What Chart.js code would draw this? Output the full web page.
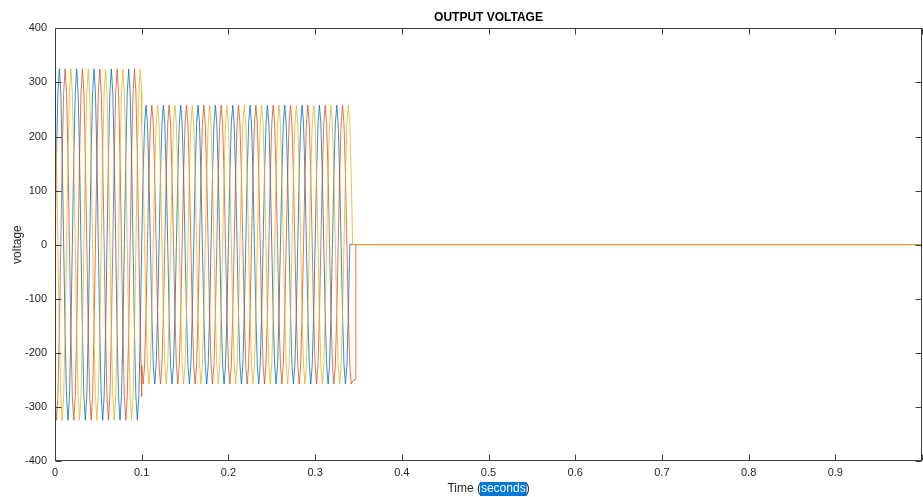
<!DOCTYPE html>
<html>
<head>
<meta charset="utf-8">
<title>Output voltage</title>
<script src="https://cdn.jsdelivr.net/npm/chart.js@4/dist/chart.umd.min.js"></script>
<style>
  html, body { margin: 0; padding: 0; background: #fff; }
  canvas { display: block; }
</style>
</head>
<body>
<canvas id="voltChart" width="923" height="497"></canvas>
<script>
// Sample times in ms (30 deg steps of a 50 Hz wave), 100 ms listed twice for the step change
const timeMs = [
  0, 1.67, 3.33, 5, 6.67, 8.33, 10, 11.67, 13.33, 15, 16.67, 18.33,
  20, 21.67, 23.33, 25, 26.67, 28.33, 30, 31.67, 33.33, 35, 36.67, 38.33,
  40, 41.67, 43.33, 45, 46.67, 48.33, 50, 51.67, 53.33, 55, 56.67, 58.33,
  60, 61.67, 63.33, 65, 66.67, 68.33, 70, 71.67, 73.33, 75, 76.67, 78.33,
  80, 81.67, 83.33, 85, 86.67, 88.33, 90, 91.67, 93.33, 95, 96.67, 98.33,
  100,
  100, 101.67, 103.33, 105, 106.67, 108.33, 110, 111.67, 113.33, 115, 116.67, 118.33,
  120, 121.67, 123.33, 125, 126.67, 128.33, 130, 131.67, 133.33, 135, 136.67, 138.33,
  140, 141.67, 143.33, 145, 146.67, 148.33, 150, 151.67, 153.33, 155, 156.67, 158.33,
  160, 161.67, 163.33, 165, 166.67, 168.33, 170, 171.67, 173.33, 175, 176.67, 178.33,
  180, 181.67, 183.33, 185, 186.67, 188.33, 190, 191.67, 193.33, 195, 196.67, 198.33,
  200, 201.67, 203.33, 205, 206.67, 208.33, 210, 211.67, 213.33, 215, 216.67, 218.33,
  220, 221.67, 223.33, 225, 226.67, 228.33, 230, 231.67, 233.33, 235, 236.67, 238.33,
  240, 241.67, 243.33, 245, 246.67, 248.33, 250, 251.67, 253.33, 255, 256.67, 258.33,
  260, 261.67, 263.33, 265, 266.67, 268.33, 270, 271.67, 273.33, 275, 276.67, 278.33,
  280, 281.67, 283.33, 285, 286.67, 288.33, 290, 291.67, 293.33, 295, 296.67, 298.33,
  300, 301.67, 303.33, 305, 306.67, 308.33, 310, 311.67, 313.33, 315, 316.67, 318.33,
  320, 321.67, 323.33, 325, 326.67, 328.33, 330, 331.67, 333.33, 335, 336.67, 338.33,
  340, 341.67, 343.33, 346.5, 347, 1000
];

// phase voltages (V), blue
const phaseA = [
  0, 162, 281, 325, 281, 162, 0, -162, -281, -325, -281, -162,
  0, 162, 281, 325, 281, 162, 0, -162, -281, -325, -281, -162,
  0, 162, 281, 325, 281, 162, 0, -162, -281, -325, -281, -162,
  0, 162, 281, 325, 281, 162, 0, -162, -281, -325, -281, -162,
  0, 162, 281, 325, 281, 162, 0, -162, -281, -325, -281, -162,
  0,
  0, 129, 223, 258, 223, 129, 0, -129, -223, -258, -223, -129,
  0, 129, 223, 258, 223, 129, 0, -129, -223, -258, -223, -129,
  0, 129, 223, 258, 223, 129, 0, -129, -223, -258, -223, -129,
  0, 129, 223, 258, 223, 129, 0, -129, -223, -258, -223, -129,
  0, 129, 223, 258, 223, 129, 0, -129, -223, -258, -223, -129,
  0, 129, 223, 258, 223, 129, 0, -129, -223, -258, -223, -129,
  0, 129, 223, 258, 223, 129, 0, -129, -223, -258, -223, -129,
  0, 129, 223, 258, 223, 129, 0, -129, -223, -258, -223, -129,
  0, 129, 223, 258, 223, 129, 0, -129, -223, -258, -223, -129,
  0, 129, 223, 258, 223, 129, 0, -129, -223, -258, -223, -129,
  0, 129, 223, 258, 223, 129, 0, -129, -223, -258, -223, -129,
  0, 129, 223, 258, 223, 129, 0, -129, -223, -258, -223, -129,
  0, 0, 0, 0, 0, 0
];

// orange
const phaseB = [
  -281, -325, -281, -162, 0, 162, 281, 325, 281, 162, 0, -162,
  -281, -325, -281, -162, 0, 162, 281, 325, 281, 162, 0, -162,
  -281, -325, -281, -162, 0, 162, 281, 325, 281, 162, 0, -162,
  -281, -325, -281, -162, 0, 162, 281, 325, 281, 162, 0, -162,
  -281, -325, -281, -162, 0, 162, 281, 325, 281, 162, 0, -162,
  -281,
  -223, -258, -223, -129, 0, 129, 223, 258, 223, 129, 0, -129,
  -223, -258, -223, -129, 0, 129, 223, 258, 223, 129, 0, -129,
  -223, -258, -223, -129, 0, 129, 223, 258, 223, 129, 0, -129,
  -223, -258, -223, -129, 0, 129, 223, 258, 223, 129, 0, -129,
  -223, -258, -223, -129, 0, 129, 223, 258, 223, 129, 0, -129,
  -223, -258, -223, -129, 0, 129, 223, 258, 223, 129, 0, -129,
  -223, -258, -223, -129, 0, 129, 223, 258, 223, 129, 0, -129,
  -223, -258, -223, -129, 0, 129, 223, 258, 223, 129, 0, -129,
  -223, -258, -223, -129, 0, 129, 223, 258, 223, 129, 0, -129,
  -223, -258, -223, -129, 0, 129, 223, 258, 223, 129, 0, -129,
  -223, -258, -223, -129, 0, 129, 223, 258, 223, 129, 0, -129,
  -223, -258, -223, -129, 0, 129, 223, 258, 223, 129, 0, -129,
  -223, -258, -252, -250, 0, 0
];

// yellow
const phaseC = [
  281, 162, 0, -162, -281, -325, -281, -162, 0, 162, 281, 325,
  281, 162, 0, -162, -281, -325, -281, -162, 0, 162, 281, 325,
  281, 162, 0, -162, -281, -325, -281, -162, 0, 162, 281, 325,
  281, 162, 0, -162, -281, -325, -281, -162, 0, 162, 281, 325,
  281, 162, 0, -162, -281, -325, -281, -162, 0, 162, 281, 325,
  281,
  223, 129, 0, -129, -223, -258, -223, -129, 0, 129, 223, 258,
  223, 129, 0, -129, -223, -258, -223, -129, 0, 129, 223, 258,
  223, 129, 0, -129, -223, -258, -223, -129, 0, 129, 223, 258,
  223, 129, 0, -129, -223, -258, -223, -129, 0, 129, 223, 258,
  223, 129, 0, -129, -223, -258, -223, -129, 0, 129, 223, 258,
  223, 129, 0, -129, -223, -258, -223, -129, 0, 129, 223, 258,
  223, 129, 0, -129, -223, -258, -223, -129, 0, 129, 223, 258,
  223, 129, 0, -129, -223, -258, -223, -129, 0, 129, 223, 258,
  223, 129, 0, -129, -223, -258, -223, -129, 0, 129, 223, 258,
  223, 129, 0, -129, -223, -258, -223, -129, 0, 129, 223, 258,
  223, 129, 0, -129, -223, -258, -223, -129, 0, 129, 223, 258,
  223, 129, 0, -129, -223, -258, -223, -129, 0, 129, 223, 258,
  223, 129, 0, 0, 0, 0
];

const AXIS_COLOR = '#404040';
const TEXT_COLOR = '#262626';
const FONT = '"Liberation Sans", Arial, Helvetica, sans-serif';

// MATLAB-ish box with inward ticks on all four sides
const axesBox = {
  id: 'axesBox',
  afterDatasetsDraw(chart) {
    const { ctx, chartArea: a, scales: { x, y } } = chart;
    const len = 6;
    ctx.save();
    ctx.strokeStyle = AXIS_COLOR;
    ctx.lineWidth = 1;
    const l = Math.round(a.left) + 0.5, r = Math.round(a.right) - 0.5;
    const t = Math.round(a.top) + 0.5, b = Math.round(a.bottom) - 0.5;
    ctx.strokeRect(l, t, r - l, b - t);
    ctx.beginPath();
    x.ticks.forEach(tk => {
      const px = Math.round(x.getPixelForValue(tk.value)) + 0.5;
      ctx.moveTo(px, b); ctx.lineTo(px, b - len);
      ctx.moveTo(px, t); ctx.lineTo(px, t + len);
    });
    y.ticks.forEach(tk => {
      const py = Math.round(y.getPixelForValue(tk.value)) + 0.5;
      ctx.moveTo(l, py); ctx.lineTo(l + len, py);
      ctx.moveTo(r, py); ctx.lineTo(r - len, py);
    });
    ctx.stroke();
    ctx.restore();
  },
  afterDraw(chart) {
    // x axis label with "seconds" shown selected
    const { ctx, chartArea: a } = chart;
    const parts = ['Time (', 'seconds', ')'];
    ctx.save();
    ctx.font = '12px ' + FONT;
    ctx.textBaseline = 'middle';
    ctx.textAlign = 'left';
    const w = parts.map(p => ctx.measureText(p).width);
    let cx = (a.left + a.right) / 2 - (w[0] + w[1] + w[2]) / 2;
    const cy = 489;
    ctx.fillStyle = TEXT_COLOR;
    ctx.fillText(parts[0], cx, cy);
    cx += w[0];
    ctx.fillStyle = '#0078D7';
    ctx.fillRect(cx - 1, cy - 7, w[1] + 2, 14);
    ctx.fillStyle = '#fff';
    ctx.fillText(parts[1], cx, cy);
    cx += w[1];
    ctx.fillStyle = TEXT_COLOR;
    ctx.fillText(parts[2], cx, cy);
    ctx.restore();
  }
};

const ctx = document.getElementById('voltChart').getContext('2d');

const voltChart = new Chart(ctx, {
  type: 'line',
  data: {
    labels: timeMs.map(t => t / 1000),
    datasets: [
      { label: 'Va', data: phaseA, borderColor: '#0072BD', order: 3 },
      { label: 'Vb', data: phaseB, borderColor: '#D95319', order: 2 },
      { label: 'Vc', data: phaseC, borderColor: '#EDB120', order: 1 }
    ]
  },
  options: {
    responsive: false,
    animation: false,
    events: [],
    elements: {
      point: { radius: 0 },
      line: { borderWidth: 0.8, tension: 0 }
    },
    layout: { padding: { left: 0, right: 1, top: 0, bottom: 11 } },
    plugins: {
      legend: { display: false },
      tooltip: { enabled: false },
      title: {
        display: true,
        text: 'OUTPUT VOLTAGE',
        fullSize: false,
        color: '#000',
        font: { family: FONT, size: 12, weight: 'bold' },
        padding: { top: 10, bottom: 4 }
      }
    },
    scales: {
      x: {
        type: 'linear',
        min: 0,
        max: 1,
        grid: { display: false, drawTicks: false },
        border: { display: false },
        ticks: {
          stepSize: 0.1,
          padding: 6,
          maxRotation: 0,
          color: TEXT_COLOR,
          font: { family: FONT, size: 11 },
          callback: v => v > 0.99 ? '' : String(Math.round(v * 10) / 10)
        },
        afterFit(scale) { scale.paddingRight = 0; }
      },
      y: {
        min: -400,
        max: 400,
        grid: { display: false, drawTicks: false },
        border: { display: false },
        ticks: {
          stepSize: 100,
          padding: 8,
          color: TEXT_COLOR,
          font: { family: FONT, size: 11 }
        },
        title: {
          display: true,
          text: 'voltage',
          color: TEXT_COLOR,
          font: { family: FONT, size: 12 },
          padding: { top: 10, bottom: 0 }
        },
        afterFit(scale) { scale.width = 55; }
      }
    }
  },
  plugins: [axesBox]
});
</script>
</body>
</html>
